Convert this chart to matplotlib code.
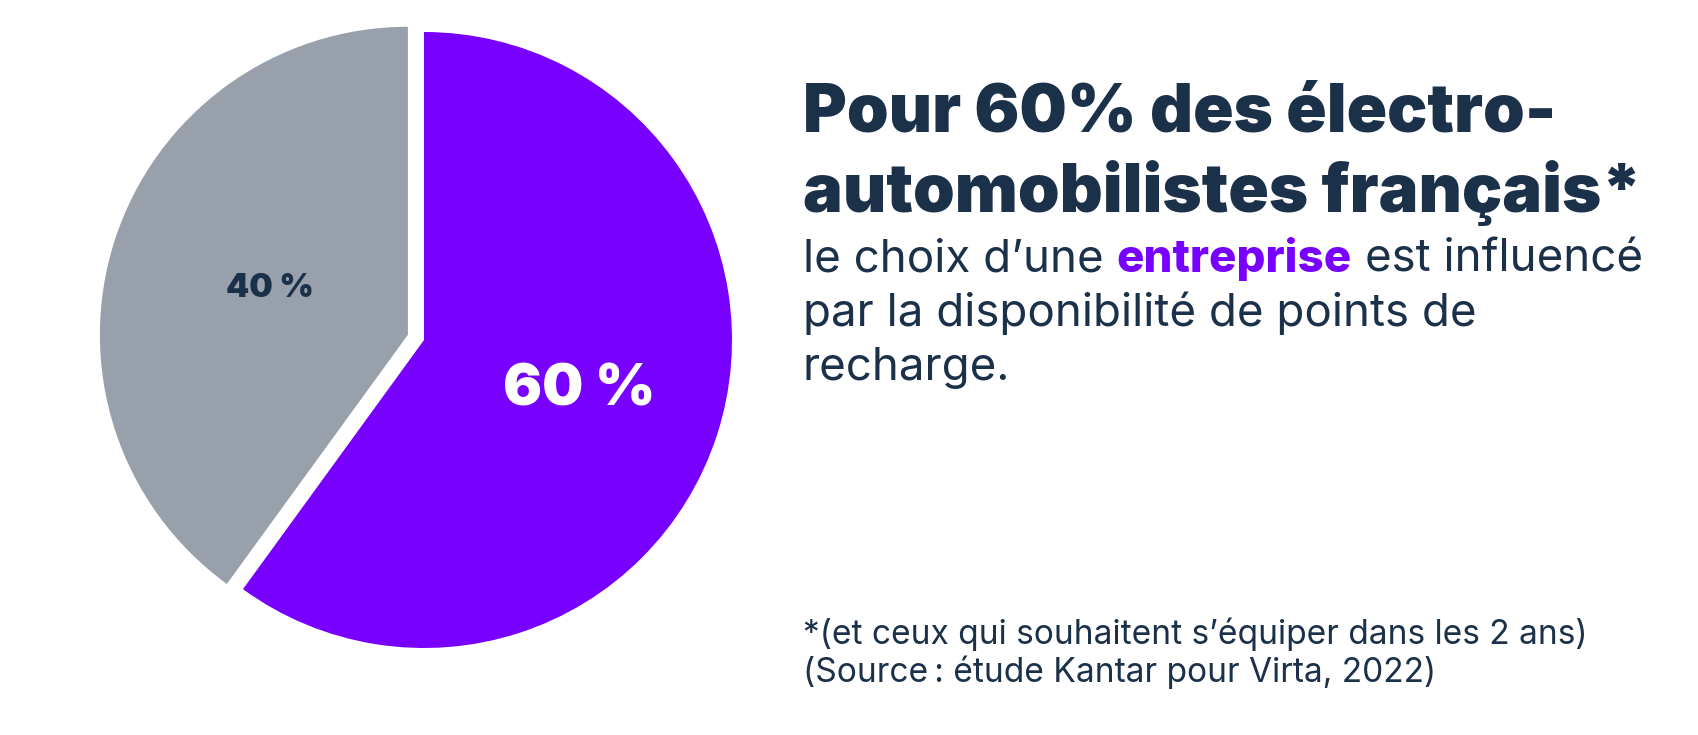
import numpy as np
import matplotlib
matplotlib.use("Agg")
import matplotlib.pyplot as plt

# Data
shares = [60, 40]
share_colors = ["#7700FF", "#98A0AB"]
label_colors = ["white", "#1B3049"]

title_lines = ["Pour 60% des électro-", "automobilistes français*"]
body_lines = [
    [("le choix d’une", "normal", "#1B3049"), ("entreprise", "heavy", "#7700FF"), ("est influencé", "normal", "#1B3049")],
    [("par la disponibilité de points de", "normal", "#1B3049")],
    [("recharge.", "normal", "#1B3049")],
]
foot_lines = ["*(et ceux qui souhaitent s’équiper dans les 2 ans)", "(Source\u2009: étude Kantar pour Virta, 2022)"]

W, H = 1699, 735
navy = "#1B3049"
plt.rcParams['font.family'] = ['Inter', 'DejaVu Sans']

fig = plt.figure(figsize=(W / 100, H / 100), dpi=100, facecolor="white")
renderer = fig.canvas.get_renderer()


def fx(x):
    return x / W


def fy(y):
    return 1 - y / H


def width_px(t):
    return t.get_window_extent(renderer).width


def fit(t, target):
    # rescale the font so the text is target pixels wide
    t.set_fontsize(t.get_fontsize() * target / width_px(t))
    return t.get_fontsize()


#--- Pie ---#
cx, cy, r = 424, 340, 308          # pixel centre / radius of the pie
lim = 1.08
side = 2 * lim * r
ax = fig.add_axes([(cx - side / 2) / W, (H - cy - side / 2) / H, side / W, side / H])
wedges, texts, autotexts = ax.pie(shares, colors=share_colors, startangle=90, counterclock=False,
                                  explode=[0, 0.055], autopct="%d %%", pctdistance=0.53,
                                  wedgeprops=dict(linewidth=0))
ax.set_xlim(-lim, lim)
ax.set_ylim(-lim, lim)
ax.set_aspect("equal")
ax.axis("off")

autotexts[0].set(color=label_colors[0], fontsize=30, fontweight=900)
autotexts[1].set(color=label_colors[1], fontsize=18, fontweight=900)
fit(autotexts[0], 152)
fit(autotexts[1], 88)
# pull the grey label slightly towards the centre
px, py = autotexts[1].get_position()
autotexts[1].set_position((px * 0.9, py * 0.92))

#--- Title ---#
x0 = 803
t1 = fig.text(fx(x0), fy(132), title_lines[0], fontsize=40, fontweight=900, color=navy, va="baseline")
ts = fit(t1, 753)
fig.text(fx(x0), fy(212), title_lines[1], fontsize=ts, fontweight=900, color=navy, va="baseline")

#--- Body ---#
probe = fig.text(0, 0, " ".join(s[0] for s in body_lines[0]), fontsize=24, color=navy)
bs = fit(probe, 825)
probe.remove()
sp = fig.text(0, 0, "x x", fontsize=bs)
sp2 = fig.text(0, 0, "xx", fontsize=bs)
space = width_px(sp) - width_px(sp2)
sp.remove()
sp2.remove()

for i, segs in enumerate(body_lines):
    x = x0
    y = 272 + 54 * i
    for j, (txt, weight, col) in enumerate(segs):
        if j > 0:
            x += space
        t = fig.text(fx(x), fy(y), txt, fontsize=bs, fontweight=weight, color=col, va="baseline")
        x = t.get_window_extent(renderer).x1

#--- Footnote ---#
f1 = fig.text(fx(x0), fy(644), foot_lines[0], fontsize=18, color=navy, va="baseline")
fs = fit(f1, 782)
fig.text(fx(x0), fy(682), foot_lines[1], fontsize=fs, color=navy, va="baseline")

fig.savefig("out.png", dpi=100, facecolor="white")
